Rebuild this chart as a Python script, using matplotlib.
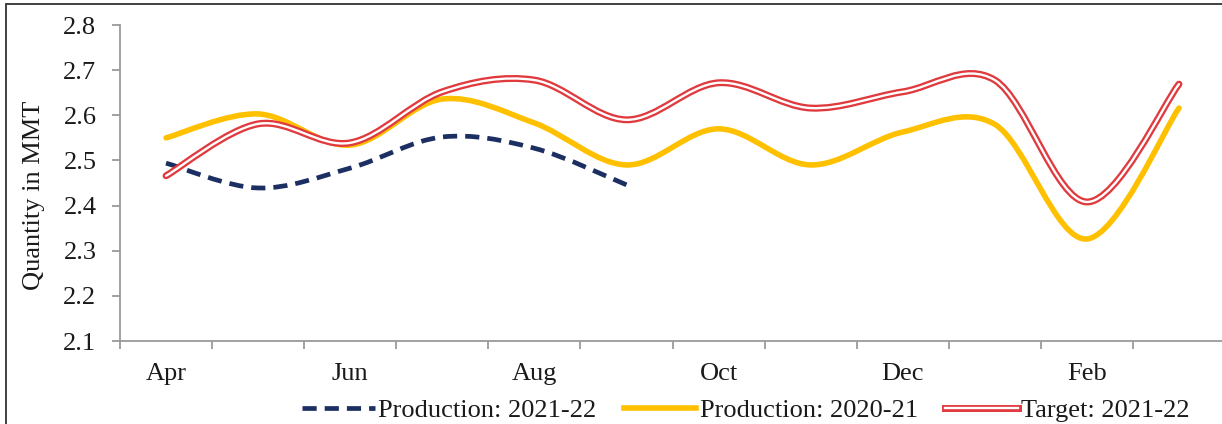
import matplotlib
matplotlib.use("Agg")
import matplotlib.pyplot as plt
import numpy as np
from matplotlib.path import Path
from matplotlib.patches import PathPatch, Rectangle
from matplotlib.lines import Line2D

months = ["Apr", "May", "Jun", "Jul", "Aug", "Sep", "Oct", "Nov", "Dec", "Jan", "Feb", "Mar"]
shown_labels = ["Apr", "Jun", "Aug", "Oct", "Dec", "Feb"]
prod_2021_22 = [2.494, 2.439, 2.483, 2.552, 2.527, 2.446]
prod_2020_21 = [2.550, 2.603, 2.534, 2.636, 2.583, 2.490, 2.570, 2.490, 2.563, 2.580, 2.326, 2.616]
target_2021_22 = [2.466, 2.581, 2.539, 2.652, 2.678, 2.590, 2.672, 2.616, 2.652, 2.678, 2.408, 2.669]
yticks = [2.1, 2.2, 2.3, 2.4, 2.5, 2.6, 2.7, 2.8]

plt.rcParams['font.family'] = ['Liberation Serif', 'DejaVu Serif']

W, H = 1222, 424
FS = 19
fig = plt.figure(figsize=(W / 100, H / 100), dpi=100)
ax = fig.add_axes([120 / W, (H - 341) / H, (1225 - 120) / W, (341 - 25) / H])
ax.set_xlim(-0.5, 11.5)
ax.set_ylim(2.1, 2.8)


def smooth_path(ys):
    xs = np.arange(len(ys), dtype=float)
    ys = np.asarray(ys, dtype=float)
    pts = np.column_stack([xs, ys])
    n = len(pts)
    verts = [pts[0]]
    codes = [Path.MOVETO]
    for i in range(n - 1):
        p0 = pts[i - 1] if i > 0 else pts[i]
        p1 = pts[i]
        p2 = pts[i + 1]
        p3 = pts[i + 2] if i + 2 < n else pts[i + 1]
        c1 = p1 + (p2 - p0) / 6.0
        c2 = p2 - (p3 - p1) / 6.0
        verts += [c1, c2, p2]
        codes += [Path.CURVE4] * 3
    return Path(verts, codes)


navy = "#1C2F62"
gold = "#FFC000"
red = "#E0393E"
DASH = (0, (3.0, 1.7))

p1 = PathPatch(smooth_path(prod_2021_22), fill=False, edgecolor=navy, lw=3.4,
               linestyle=DASH, capstyle='butt', zorder=3)
ax.add_patch(p1)
p2 = PathPatch(smooth_path(prod_2020_21), fill=False, edgecolor=gold, lw=4.0,
               capstyle='round', zorder=4)
ax.add_patch(p2)
p3a = PathPatch(smooth_path(target_2021_22), fill=False, edgecolor=red, lw=5.0,
                capstyle='round', zorder=5)
p3b = PathPatch(smooth_path(target_2021_22), fill=False, edgecolor="white", lw=1.7,
                capstyle='round', zorder=6)
ax.add_patch(p3a)
ax.add_patch(p3b)

# axes styling
for s in ["top", "right"]:
    ax.spines[s].set_visible(False)
for s in ["left", "bottom"]:
    ax.spines[s].set_color("#9A9A9A")
    ax.spines[s].set_linewidth(1.3)

ax.set_yticks(yticks)
ax.set_yticklabels([f"{v:.1f}" for v in yticks])
ax.tick_params(axis='y', length=6, width=1.3, color="#9A9A9A", labelsize=FS, pad=11, labelcolor="#1a1a1a")

ax.set_xticks([months.index(m) for m in shown_labels])
ax.set_xticklabels(shown_labels)
ax.set_xticks(np.arange(-0.5, 12, 1.0), minor=True)
ax.tick_params(axis='x', which='major', length=0, labelsize=FS, pad=16, labelcolor="#1a1a1a")
ax.tick_params(axis='x', which='minor', length=6, width=1.3, color="#9A9A9A")

ax.set_ylabel("Quantity in MMT", fontsize=FS, color="#1a1a1a")
ax.yaxis.set_label_coords(-0.068, 0.46)

h1 = Line2D([], [], color=navy, lw=3.4, linestyle=DASH)
h2 = Line2D([], [], color=gold, lw=4.0)
h3a = Line2D([], [], color=red, lw=5.0)
h3b = Line2D([], [], color="white", lw=1.7)
leg = fig.legend([h1, h2, (h3a, h3b)],
                 ["Production: 2021-22", "Production: 2020-21", "Target: 2021-22"],
                 loc='center', bbox_to_anchor=(746 / W, (H - 410) / H), ncol=3,
                 frameon=False, fontsize=FS, handlelength=2.75, handletextpad=0.12,
                 columnspacing=1.05, borderpad=0.0)
for t in leg.get_texts():
    t.set_color("#1a1a1a")

# outer frame
fig.patches.append(Rectangle((6 / W, -0.1), 1.2, (H - 4) / H + 0.1, transform=fig.transFigure,
                             fill=False, edgecolor="#333333", lw=1.3, figure=fig))

fig.savefig("out.png", dpi=100)
